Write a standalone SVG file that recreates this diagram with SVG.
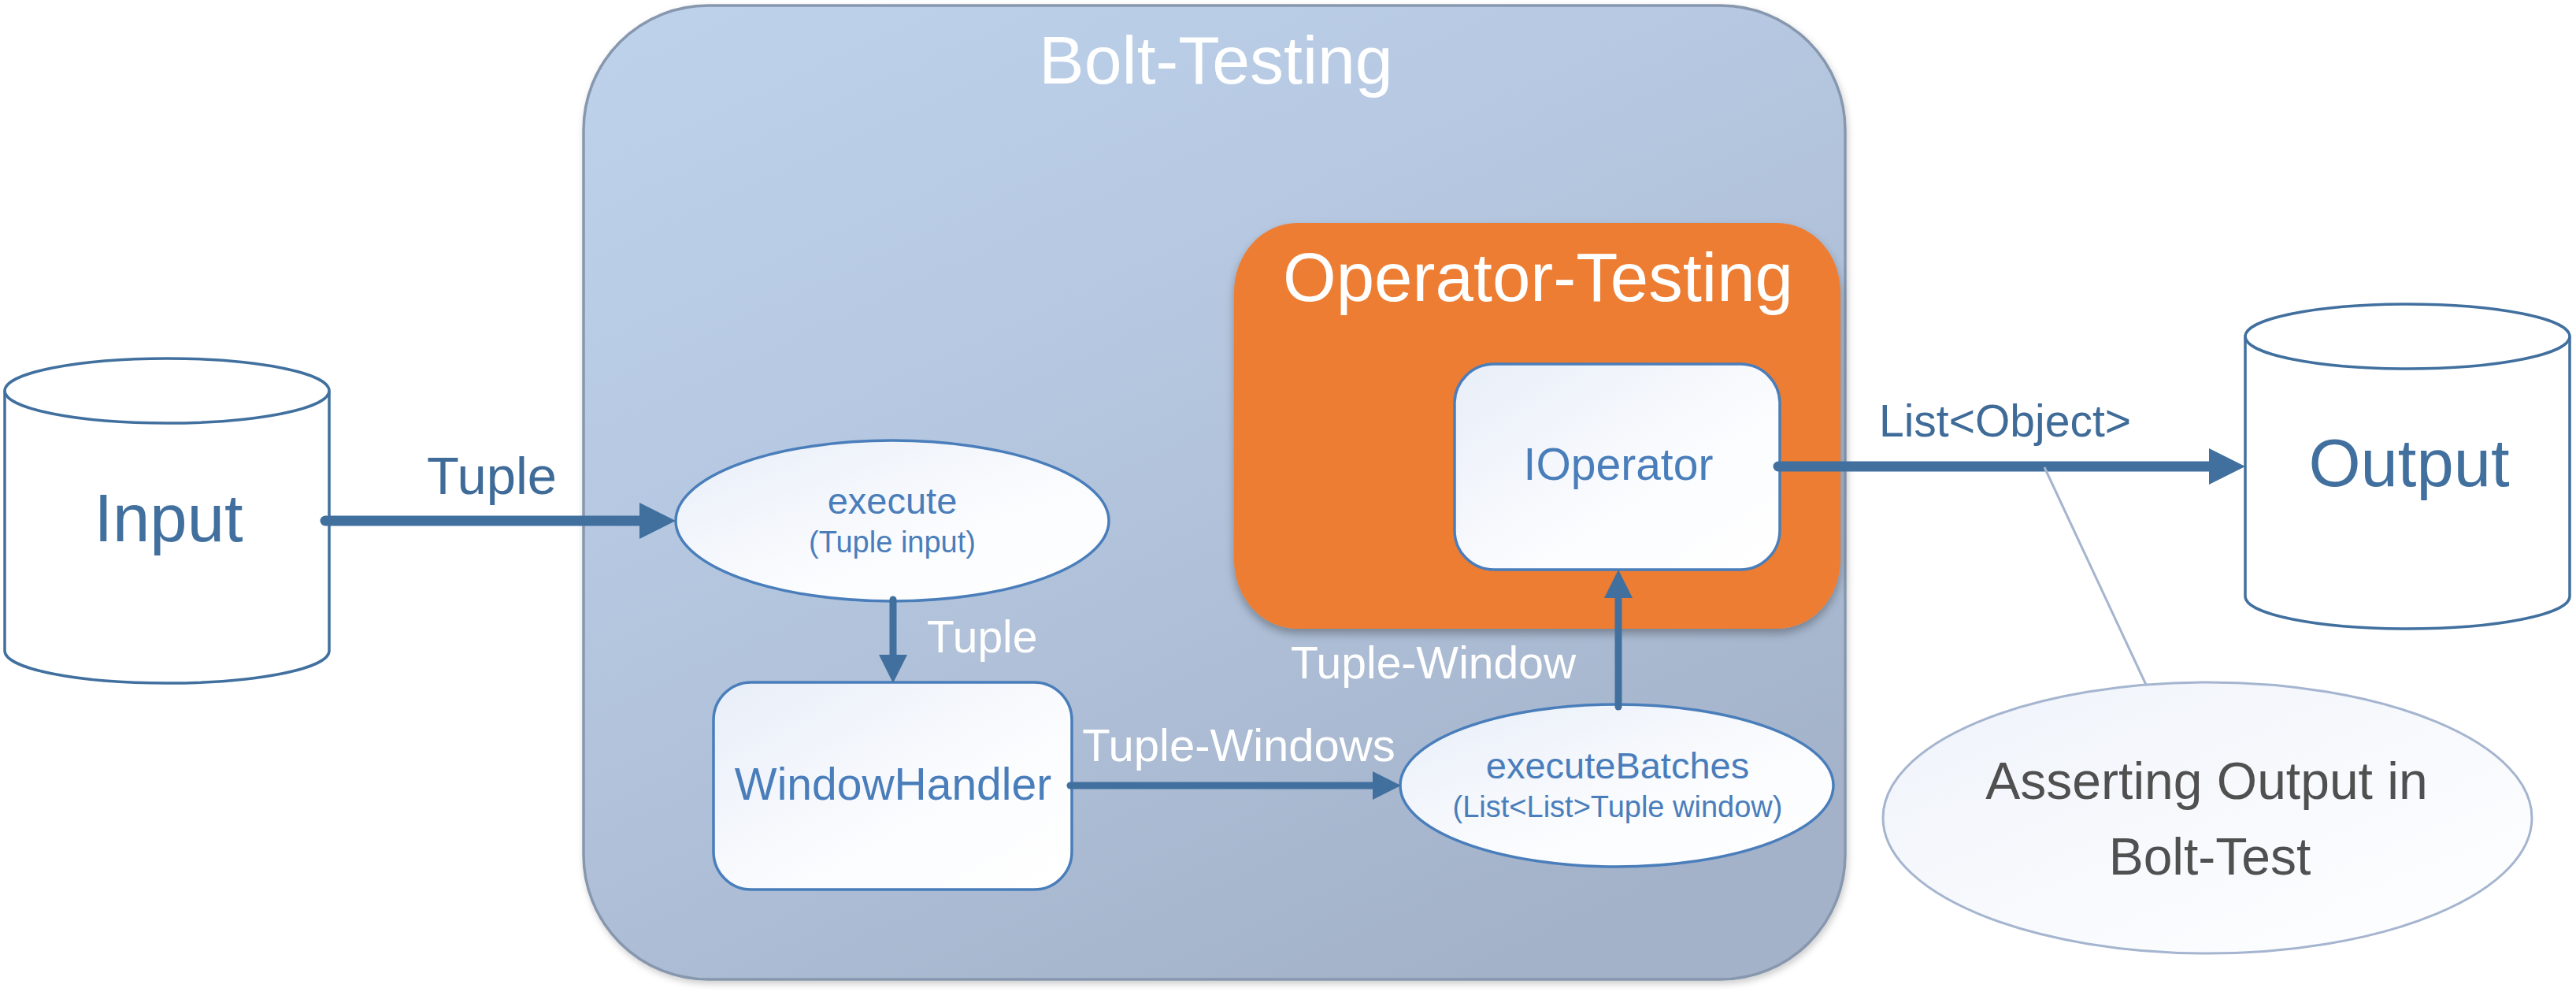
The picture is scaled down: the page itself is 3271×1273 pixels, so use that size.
<svg xmlns="http://www.w3.org/2000/svg" width="3271" height="1273" viewBox="0 0 3271 1273">
<style>
text{font-family:"Liberation Sans",Arial,sans-serif}
.node{fill:url(#nodeGrad);stroke:#4A7EBB;stroke-width:3.5}
.cyl{fill:#fff;stroke:#41709F;stroke-width:3.5}
.ntxt{fill:#4A7EBB;text-anchor:middle}
.wtxt{fill:#fff}
.btxt{fill:#3F6B98}
.thick{stroke:#41709F;stroke-width:13;fill:none;stroke-linecap:round}
.thin{stroke:#41709F;stroke-width:9;fill:none;stroke-linecap:round}
</style>
<defs>
<linearGradient id="contGrad" x1="0.1" y1="0" x2="0.7" y2="1">
<stop offset="0" stop-color="#BDD1EA"/>
<stop offset="0.35" stop-color="#B7C9E2"/>
<stop offset="1" stop-color="#A3B2C9"/>
</linearGradient>
<linearGradient id="nodeGrad" x1="0" y1="0" x2="1" y2="1">
<stop offset="0" stop-color="#E8EEF8"/>
<stop offset="0.6" stop-color="#FBFCFE"/>
<stop offset="1" stop-color="#FFFFFF"/>
</linearGradient>
<linearGradient id="noteGrad" x1="0" y1="0" x2="1" y2="1">
<stop offset="0" stop-color="#EFF3FA"/>
<stop offset="1" stop-color="#FFFFFF"/>
</linearGradient>
<filter id="shadow" x="-10%" y="-10%" width="120%" height="130%">
<feDropShadow dx="0" dy="6" stdDeviation="6" flood-color="#000" flood-opacity="0.3"/>
</filter>
<filter id="shadowS" x="-5%" y="-5%" width="110%" height="110%">
<feDropShadow dx="2" dy="4" stdDeviation="4" flood-color="#000" flood-opacity="0.2"/>
</filter>
<marker id="headL" markerUnits="userSpaceOnUse" markerWidth="46" markerHeight="46" refX="0" refY="23" orient="auto">
<path d="M0,0 L46,23 L0,46 z" fill="#41709F"/>
</marker>
<marker id="headS" markerUnits="userSpaceOnUse" markerWidth="36" markerHeight="36" refX="0" refY="18" orient="auto">
<path d="M0,0 L36,18 L0,36 z" fill="#41709F"/>
</marker>
</defs>

<g id="bolt-testing">
<rect x="741" y="7" width="1602" height="1236" rx="158" ry="158" fill="url(#contGrad)" stroke="#8797AE" stroke-width="3.5" filter="url(#shadowS)"/>
<text x="1544" y="106" font-size="86" class="wtxt" text-anchor="middle">Bolt-Testing</text>
</g>

<g id="operator-testing">
<rect x="1567" y="283" width="770" height="515" rx="80" ry="88" fill="#ED7D31" filter="url(#shadow)"/>
<text x="1953" y="382" font-size="87" class="wtxt" text-anchor="middle">Operator-Testing</text>
</g>

<g id="input">
<path class="cyl" d="M6,496 L6,826 A206,41 0 0 0 418,826 L418,496"/>
<ellipse class="cyl" cx="212" cy="496" rx="206" ry="41"/>
<text x="214" y="687" font-size="85" fill="#41709F" text-anchor="middle">Input</text>
</g>

<g id="output">
<path class="cyl" d="M2851,427 L2851,757 A206,41 0 0 0 3263,757 L3263,427"/>
<ellipse class="cyl" cx="3057" cy="427" rx="206" ry="41"/>
<text x="3059" y="617" font-size="85" fill="#41709F" text-anchor="middle">Output</text>
</g>

<g id="execute">
<ellipse class="node" cx="1133" cy="661" rx="275" ry="102"/>
<text x="1133" y="652" font-size="47" class="ntxt">execute</text>
<text x="1133" y="701" font-size="38" class="ntxt">(Tuple input)</text>
</g>

<g id="window-handler">
<rect class="node" x="906" y="866" width="455" height="263" rx="48" ry="48"/>
<text x="1134" y="1015" font-size="57" class="ntxt">WindowHandler</text>
</g>

<g id="execute-batches">
<ellipse class="node" cx="2053" cy="997" rx="275" ry="103"/>
<text x="2054" y="988" font-size="47" class="ntxt">executeBatches</text>
<text x="2054" y="1037" font-size="38" class="ntxt">(List&lt;List&gt;Tuple window)</text>
</g>

<g id="ioperator">
<rect class="node" x="1847" y="462" width="413" height="261" rx="50" ry="50"/>
<text x="2055" y="609" font-size="57" class="ntxt">IOperator</text>
</g>

<g id="note">
<ellipse cx="2803" cy="1038" rx="412" ry="172" fill="url(#noteGrad)" stroke="#A5B5CF" stroke-width="3"/>
<text x="2802" y="1014" font-size="66" fill="#505050" text-anchor="middle">Asserting Output in</text>
<text x="2806" y="1110" font-size="66" fill="#505050" text-anchor="middle">Bolt-Test</text>
</g>

<g id="connectors">
<line class="thick" x1="413" y1="661" x2="812" y2="661" marker-end="url(#headL)"/>
<text x="542" y="627" font-size="67" class="btxt">Tuple</text>
<line class="thin" x1="1134" y1="761" x2="1134" y2="831" marker-end="url(#headS)"/>
<text x="1177" y="828" font-size="57" class="wtxt">Tuple</text>
<line class="thin" x1="1359" y1="997" x2="1743" y2="997" marker-end="url(#headS)"/>
<text x="1573" y="966" font-size="58" class="wtxt" text-anchor="middle">Tuple-Windows</text>
<line class="thin" x1="2055" y1="897" x2="2055" y2="759" marker-end="url(#headS)"/>
<text x="1820" y="861" font-size="57" class="wtxt" text-anchor="middle">Tuple-Window</text>
<line class="thick" x1="2258" y1="592" x2="2805" y2="592" marker-end="url(#headL)"/>
<text x="2386" y="554" font-size="57" class="btxt">List&lt;Object&gt;</text>
<line x1="2596" y1="593" x2="2725" y2="869" stroke="#A5B5CF" stroke-width="3"/>
</g>
</svg>
